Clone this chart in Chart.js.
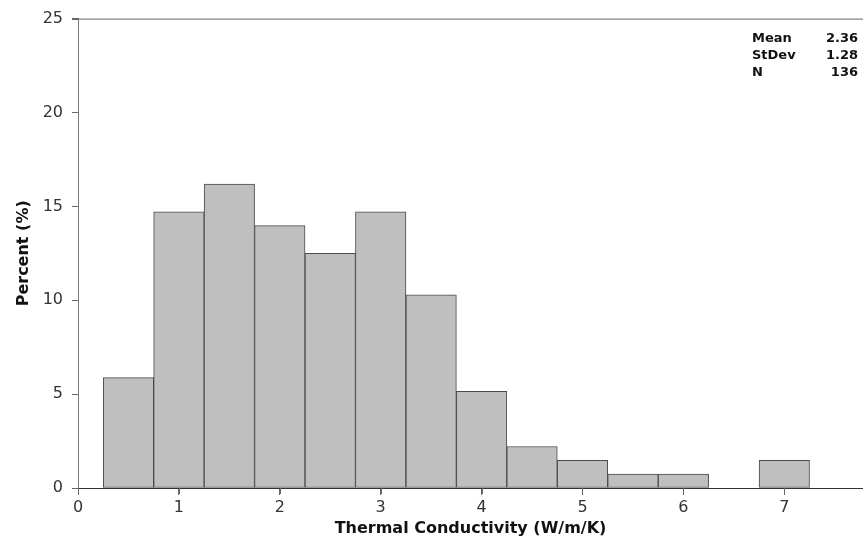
<!DOCTYPE html>
<html lang="en">
<head>
    <meta charset="UTF-8">
    <title>Thermal Conductivity Histogram</title>
    <script src="https://cdn.jsdelivr.net/npm/chart.js"></script>
    <style>
        body { margin: 0; background: #fff; }
        #wrap { width: 863px; height: 550px; }
    </style>
</head>
<body>
    <div id="wrap"><canvas id="histChart" width="863" height="550"></canvas></div>

    <script>
        // bin midpoints (bin width 0.5)
        const binCenters = [0.5, 1.0, 1.5, 2.0, 2.5, 3.0, 3.5, 4.0, 4.5, 5.0, 5.5, 6.0, 6.5, 7.0];
        // percent of samples in each bin
        const percents = [5.88, 14.71, 16.18, 13.97, 12.5, 14.71, 10.29, 5.15, 2.21, 1.47, 0.74, 0.74, 0, 1.47];
        const xTicks = [0, 1, 2, 3, 4, 5, 6, 7];
        const yTicks = [0, 5, 10, 15, 20, 25];
        const statLabels = ['Mean', 'StDev', 'N'];
        const statValues = ['2.36', '1.28', '136'];

        const tickFont = { family: 'DejaVu Sans', size: 16 };
        const titleFont = { family: 'DejaVu Sans', size: 16, weight: 'bold' };

        // top frame line, tick marks, summary box
        const extras = {
            id: 'extras',
            afterDraw(chart) {
                const { ctx, chartArea } = chart;
                const xs = chart.scales.x, ys = chart.scales.y;
                ctx.save();
                ctx.strokeStyle = '#666';
                ctx.lineWidth = 1;
                ctx.beginPath();
                ctx.moveTo(chartArea.left, chartArea.top + 0.5);
                ctx.lineTo(chart.width, chartArea.top + 0.5);
                // tick marks pointing outwards
                xs.ticks.forEach(t => {
                    const px = Math.round(xs.getPixelForValue(t.value)) + 0.5;
                    ctx.moveTo(px, chartArea.bottom);
                    ctx.lineTo(px, chartArea.bottom + 6);
                });
                ys.ticks.forEach(t => {
                    const py = Math.round(ys.getPixelForValue(t.value)) + 0.5;
                    ctx.moveTo(chartArea.left, py);
                    ctx.lineTo(chartArea.left - 6, py);
                });
                ctx.stroke();

                ctx.font = 'bold 13px "DejaVu Sans"';
                ctx.fillStyle = '#111';
                ctx.textBaseline = 'middle';
                statLabels.forEach((lab, i) => {
                    const y = chartArea.top + 20 + i * 17;
                    ctx.textAlign = 'left';
                    ctx.fillText(lab, chart.width - 111, y);
                    ctx.textAlign = 'right';
                    ctx.fillText(statValues[i], chart.width - 5, y);
                });
                ctx.restore();
            }
        };

        const ctx = document.getElementById('histChart').getContext('2d');
        const chart = new Chart(ctx, {
            type: 'bar',
            data: {
                datasets: [{
                    data: binCenters.map((c, i) => ({ x: c, y: percents[i] })),
                    backgroundColor: '#bfbfbf',
                    borderColor: '#4a4a4a',
                    borderWidth: 1,
                    borderSkipped: false,
                    barPercentage: 1,
                    categoryPercentage: 1
                }]
            },
            options: {
                responsive: false,
                animation: false,
                layout: { padding: { top: 18, right: 0, left: 10, bottom: 12 } },
                plugins: {
                    legend: { display: false },
                    tooltip: { enabled: false }
                },
                scales: {
                    x: {
                        type: 'linear',
                        min: 0,
                        max: 7.78,
                        offset: false,
                        afterBuildTicks: s => { s.ticks = xTicks.map(v => ({ value: v })); },
                        afterFit: s => { s.height = 50; },
                        border: { color: '#333', width: 1 },
                        grid: { drawOnChartArea: false, offset: false, tickLength: 7, color: '#666' },
                        ticks: { font: tickFont, color: '#333', padding: 3 },
                        title: { display: true, text: 'Thermal Conductivity (W/m/K)', font: titleFont, color: '#111', padding: { top: 0, bottom: 0 } }
                    },
                    y: {
                        min: 0,
                        max: 25,
                        afterBuildTicks: s => { s.ticks = yTicks.map(v => ({ value: v })); },
                        afterFit: s => { s.width = 68; },
                        border: { color: '#777', width: 1 },
                        grid: { drawOnChartArea: false, tickLength: 6, color: '#666' },
                        ticks: { font: tickFont, color: '#333', padding: 9 },
                        title: { display: true, text: 'Percent (%)', font: titleFont, color: '#111', padding: { bottom: 4 } }
                    }
                }
            },
            plugins: [extras]
        });
    </script>
</body>
</html>
